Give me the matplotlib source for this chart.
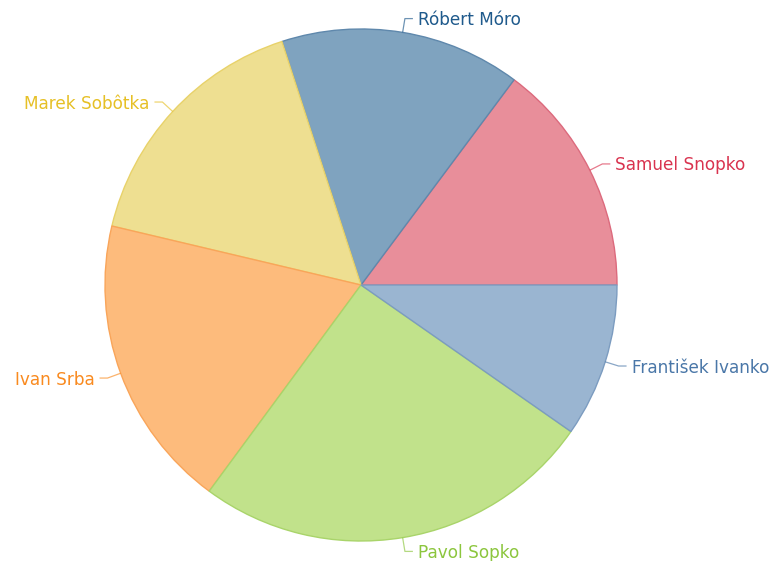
import matplotlib
matplotlib.use("Agg")
import matplotlib.pyplot as plt
import numpy as np

names = ["Samuel Snopko", "Róbert Móro", "Marek Sobôtka", "Ivan Srba", "Pavol Sopko", "František Ivanko"]
values = [14.8, 15.2, 16.3, 18.6, 25.4, 9.7]
fills = ["#E88E9A", "#7FA3BF", "#EEDF91", "#FDBB7C", "#C1E28B", "#9AB5D1"]
edges = ["#DC6A7D", "#5F88AC", "#E8D26A", "#F9A55A", "#A9D46A", "#7C9CC0"]
label_colors = ["#D9334F", "#1F5A8C", "#E6C026", "#F98A1F", "#8CC63E", "#4A77A8"]

W, H = 774, 561
fig = plt.figure(figsize=(W / 100, H / 100), dpi=100)
ax = fig.add_axes([0, 0, 1, 1])
ax.set_xlim(0, W)
ax.set_ylim(0, H)
ax.set_aspect("equal")
ax.axis("off")

cx, cy, R = 361, H - 285, 256
wedges, _ = ax.pie(values, colors=fills, startangle=0, counterclock=True,
                   center=(cx, cy), radius=R, frame=True,
                   wedgeprops=dict(linewidth=1.0))
for w, e in zip(wedges, edges):
    w.set_edgecolor(e)
ax.set_xlim(0, W)
ax.set_ylim(0, H)
ax.axis("off")

total = sum(values)
start = 0.0
for name, v, lc in zip(names, values, label_colors):
    ang = start + v / total * 360 / 2
    start += v / total * 360
    a = np.deg2rad(ang)
    x0, y0 = cx + R * np.cos(a), cy + R * np.sin(a)
    x1, y1 = cx + (R + 14) * np.cos(a), cy + (R + 14) * np.sin(a)
    side = 1 if np.cos(a) >= 0 else -1
    x2 = x1 + side * 8
    ax.plot([x0, x1, x2], [y0, y1, y1], color=lc, lw=0.9, alpha=0.65, solid_capstyle="butt")
    ax.text(x2 + side * 5, y1 - 1.5, name, color=lc, fontsize=12.2, ha="left" if side > 0 else "right",
            va="center", family="DejaVu Sans")

fig.savefig("out.png", dpi=100)
